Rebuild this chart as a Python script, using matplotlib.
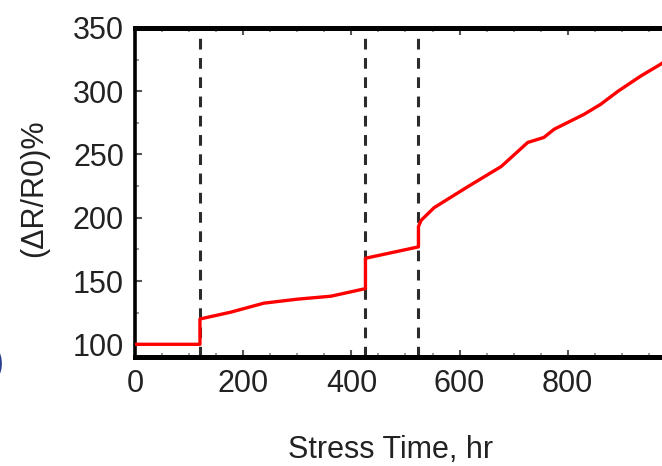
import numpy as np
import matplotlib.pyplot as plt
from matplotlib.ticker import MultipleLocator

plt.rcParams['font.family'] = ['Liberation Sans', 'DejaVu Sans']

#%% DATA
time_hr = [0, 120, 120, 177, 238, 301, 362, 426, 426, 524, 524, 529, 553,
           615, 677, 726, 756, 775, 830, 861, 893, 935, 972, 1000]
dr_pct = [100, 100, 120, 125.4, 132.5, 135.7, 138, 144, 168, 177, 193, 198, 208,
          224.5, 240.5, 259.5, 263.5, 270, 281.7, 289.7, 300, 312, 321.4, 330]

# stress change times (dashed markers)
events_hr = [120, 426, 524]

xticks = [0, 200, 400, 600, 800]
yticks = [100, 150, 200, 250, 300, 350]

#%% PLOT
fig = plt.figure(figsize=(6.62, 4.66), dpi=100)
ax = fig.add_axes([0.204, 0.234, 0.817, 0.706])

for t in events_hr:
    ax.axvline(t, color='#2b2b2b', lw=2.2, ls=(0, (3.5, 2.8)), zorder=1)

ax.plot(time_hr, dr_pct, color='#ff0000', lw=2.4, zorder=3)

ax.set_xlim(0, 1000)
ax.set_ylim(90, 350)
ax.set_xticks(xticks)
ax.set_yticks(yticks)
ax.xaxis.set_minor_locator(MultipleLocator(50))
ax.yaxis.set_minor_locator(MultipleLocator(25))

ax.tick_params(which='both', direction='in', top=True, right=True,
               colors='#222222', labelsize=22)
ax.tick_params(which='major', length=5, width=1.5, color='#555555')
ax.tick_params(which='minor', length=3, width=1.2, color='#888888')
ax.tick_params(axis='x', pad=9)
ax.tick_params(axis='y', pad=8)

for side in ['top', 'bottom']:
    ax.spines[side].set_linewidth(3.6)
ax.spines['left'].set_linewidth(2.6)
ax.spines['right'].set_linewidth(1.0)

ax.set_xlabel('Stress Time, hr', fontsize=22, color='#222222')
ax.xaxis.set_label_coords(0.473, -0.283)
ax.xaxis.label.set_va('center')
ax.set_ylabel('(ΔR/R0)%', fontsize=22, color='#222222')
ax.yaxis.set_label_coords(-0.187, 0.514)
ax.yaxis.label.set_va('center')

# cut-off panel letter at the left edge
fig.text(0.006, 0.22, ')', fontsize=26, color='#2a3f8f', ha='right', va='center')

fig.savefig('out.png', dpi=100)
